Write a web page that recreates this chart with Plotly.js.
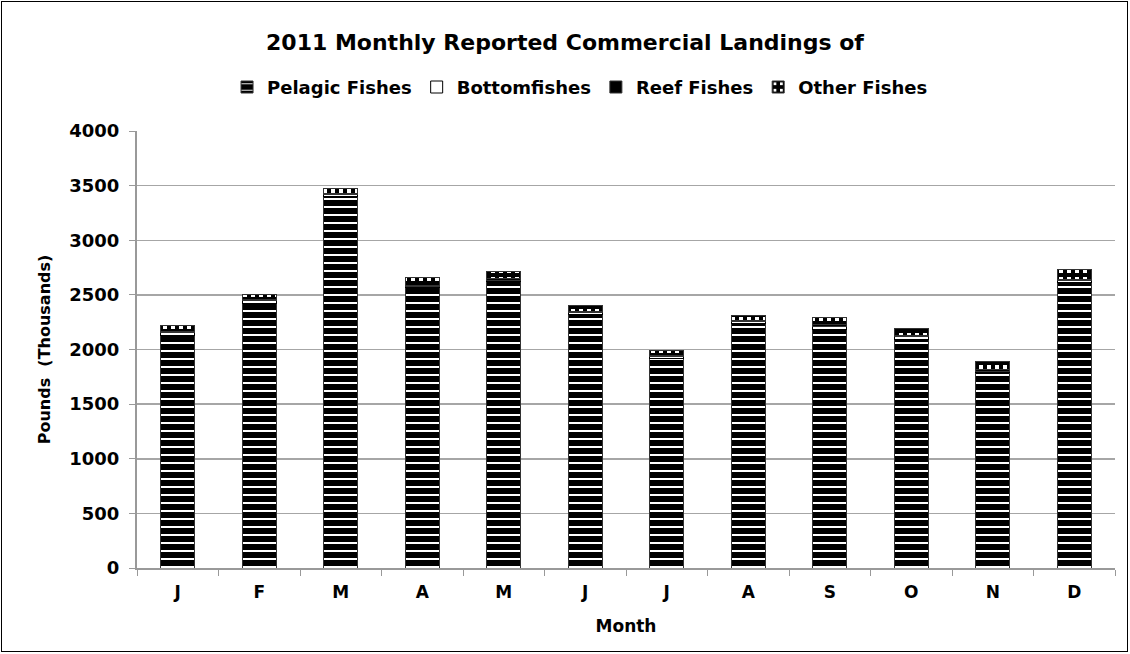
<!DOCTYPE html>
<html>
<head>
<meta charset="utf-8">
<script src="https://cdn.plot.ly/plotly-3.0.1.min.js"></script>
<style>
  body { margin: 0; padding: 0; background: #fff; }
  #chart { position: absolute; left: 0; top: 0; width: 1130px; height: 654px; }
  #chart pattern, #chart pattern * { shape-rendering: crispEdges; }
  #frame { position: absolute; left: 1px; top: 1px; width: 1125px; height: 649px; border: 1px solid #000; pointer-events: none; }
</style>
</head>
<body>
<div id="chart"></div>
<div id="frame"></div>
<script>
const months = ["J", "F", "M", "A", "M ", "J ", "J  ", "A ", "S", "O", "N", "D"];
const monthLabels = ["J", "F", "M", "A", "M", "J", "J", "A", "S", "O", "N", "D"];
const pelagic = [2130, 2420, 3400, 2565, 2620, 2320, 1920, 2240, 2180, 2090, 1790, 2610];
const bottomfish = [25, 25, 15, 10, 15, 15, 15, 15, 35, 25, 10, 20];
const reef = [10, 10, 10, 10, 15, 10, 10, 10, 15, 15, 15, 10];
const other = [55, 45, 45, 75, 60, 55, 45, 45, 60, 60, 75, 90];
const yTicks = [0, 500, 1000, 1500, 2000, 2500, 3000, 3500, 4000];

const FONT = "DejaVu Sans, Verdana, sans-serif";
const outline = { color: "#333333", width: 1 };

const traces = [
  {
    type: "bar", name: "Pelagic Fishes", x: months, y: pelagic,
    marker: { color: "#000000", line: outline,
      pattern: { shape: "-", fillmode: "overlay", bgcolor: "#000000", fgcolor: "#ffffff", fgopacity: 1, size: 8, solidity: 0.25 } }
  },
  {
    type: "bar", name: "Bottomfishes", x: months, y: bottomfish,
    marker: { color: "#ffffff", line: { color: "#000000", width: 1 } }
  },
  {
    type: "bar", name: "Reef Fishes", x: months, y: reef,
    marker: { color: "#000000", line: outline }
  },
  {
    type: "bar", name: "Other Fishes", x: months, y: other,
    marker: { color: "#000000", line: outline,
      pattern: { shape: ".", fillmode: "overlay", bgcolor: "#000000", fgcolor: "#ffffff", fgopacity: 1, size: 8, solidity: 0.2 } }
  }
];

const layout = {
  width: 1130, height: 654,
  paper_bgcolor: "rgba(0,0,0,0)", plot_bgcolor: "#ffffff",
  margin: { l: 137, r: 15, t: 131, b: 86, autoexpand: false },
  barmode: "stack", bargap: 0.58,
  showlegend: true,
  font: { family: FONT, color: "#000", size: 17 },
  title: { text: "<b>2011 Monthly Reported Commercial Landings of</b>", x: 0.5, xanchor: "center", y: 0.935, yanchor: "middle",
    font: { family: FONT, size: 22, color: "#000" } },
  legend: { orientation: "h", x: 0.453, xanchor: "center", y: 1.1, yanchor: "middle",
    font: { family: FONT, size: 18, color: "#000", weight: "bold" }, traceorder: "normal",
    itemwidth: 30, bgcolor: "rgba(0,0,0,0)" },
  xaxis: {
    type: "category",
    tickvals: months, ticktext: monthLabels.map(s => "<b>" + s + "</b>"),
    tickson: "boundaries", ticks: "outside", ticklen: 6, tickcolor: "#999",
    showline: true, linecolor: "#999", linewidth: 2,
    ticklabelstandoff: 8,
    tickfont: { family: FONT, size: 17 },
    title: { text: "<b>Month</b>", font: { family: FONT, size: 17 }, standoff: 19 },
    showgrid: false, fixedrange: true
  },
  yaxis: {
    range: [0, 4000], tickvals: yTicks, ticktext: yTicks.map(v => "<b>" + v + "</b>"),
    ticks: "outside", ticklen: 6, tickcolor: "#999",
    showline: true, linecolor: "#999", linewidth: 2,
    showgrid: true, gridcolor: "#a6a6a6", gridwidth: 1.5,
    zeroline: false, ticklabelstandoff: 6,
    tickfont: { family: FONT, size: 18 },
    title: { text: "<b>Pounds  (Thousands)</b>", font: { family: FONT, size: 16 }, standoff: 15 },
    fixedrange: true
  }
};

Plotly.newPlot("chart", traces, layout, { displayModeBar: false, staticPlot: true });
</script>
</body>
</html>
